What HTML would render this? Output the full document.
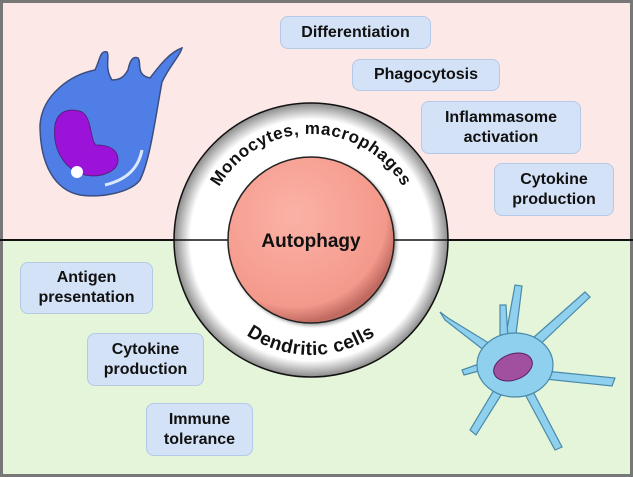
<!DOCTYPE html>
<html><head><style>
body{margin:0;width:633px;height:477px;overflow:hidden;font-family:"Liberation Sans",sans-serif}
.b{position:absolute;background:#d3e2f6;border:1px solid #b3c9e6;border-radius:8px;font-weight:bold;font-size:16px;color:#111;text-align:center;line-height:20px;display:flex;align-items:center;justify-content:center;box-sizing:border-box}
</style></head><body>
<svg width="633" height="477" style="position:absolute;left:0;top:0">
<defs>
<radialGradient id="pk" cx="40%" cy="35%" r="65%"><stop offset="0" stop-color="#fbb2a6"/><stop offset="0.85" stop-color="#f4998b"/><stop offset="1" stop-color="#c06a60"/></radialGradient>
<radialGradient id="rg" cx="50%" cy="50%" r="50%"><stop offset="0.88" stop-color="#fff"/><stop offset="1" stop-color="#8a8a8a"/></radialGradient>
<filter id="sh"><feDropShadow dx="2" dy="2" stdDeviation="1.5" flood-color="#000" flood-opacity="0.35"/></filter>
</defs>
<rect x="0" y="0" width="633" height="477" fill="#777"/>
<rect x="3" y="3" width="627" height="237" fill="#fde8e8"/>
<rect x="3" y="240" width="627" height="234" fill="#e5f5da"/>
<line x1="0" y1="240" x2="633" y2="240" stroke="#111" stroke-width="2"/>
<path d="M40,125 C42,95 70,75 95,70 C100,60 100,50 107,52 C110,56 104,68 112,80 C122,80 125,75 128,70 C130,60 133,56 138,58 C142,62 135,75 150,78 C160,65 170,52 182,48 C180,56 170,65 162,82 C155,120 150,160 140,180 C130,193 100,198 80,195 C55,190 40,165 40,125 Z" fill="#4f7fe6" stroke="#3a4f80" stroke-width="1.5"/>
<path d="M55,125 C58,110 70,108 82,112 C92,118 90,140 96,145 C110,145 118,150 118,160 C118,172 100,178 85,175 C65,170 52,150 55,125 Z" fill="#9b12d8" stroke="#5a2080" stroke-width="1"/>
<circle cx="77" cy="172" r="6" fill="#fff"/>
<path d="M105,185 C125,180 138,170 142,150" stroke="#dbe8ff" stroke-width="3" fill="none"/>
<g fill="#8fd0ee" stroke="#4a8aa8" stroke-width="1.2">
<path d="M490,355 L445,320 L440,312 L448,318 L492,345 Z"/>
<path d="M505,340 L515,285 L522,286 L515,342 Z"/>
<path d="M525,345 L585,292 L590,297 L532,352 Z"/>
<path d="M535,370 L615,378 L612,386 L535,378 Z"/>
<path d="M500,380 L470,430 L476,435 L508,384 Z"/>
<path d="M520,385 L555,450 L562,447 L528,382 Z"/>
<path d="M490,360 L462,370 L464,375 L490,368 Z"/>
<path d="M500,340 L500,305 L506,305 L508,340 Z"/>
<ellipse cx="515" cy="365" rx="38" ry="32"/>
</g>
<ellipse cx="513" cy="367" rx="20" ry="13" fill="#a0509e" stroke="#5a2060" transform="rotate(-20 513 367)"/>
<circle cx="311" cy="240" r="137" fill="url(#rg)" stroke="#111" stroke-width="1.5"/>
<line x1="174" y1="240" x2="448" y2="240" stroke="#111" stroke-width="1.5"/>
<circle cx="311" cy="240" r="83" fill="url(#pk)" stroke="#222" stroke-width="1.5" filter="url(#sh)"/>
<path id="arcT" d="M205,240 A106,106 0 0 1 417,240" fill="none"/>
<path id="arcB" d="M196,240 A115,115 0 0 0 426,240" fill="none"/>
<text font-family="Liberation Sans,sans-serif" font-weight="bold" font-size="17" letter-spacing="0.6" fill="#111"><textPath href="#arcT" startOffset="50%" text-anchor="middle">Monocytes, macrophages</textPath></text>
<text font-family="Liberation Sans,sans-serif" font-weight="bold" font-size="19" letter-spacing="0.5" fill="#111"><textPath href="#arcB" startOffset="50%" text-anchor="middle">Dendritic cells</textPath></text>
<text x="311" y="247" text-anchor="middle" font-family="Liberation Sans,sans-serif" font-weight="bold" font-size="19" fill="#111">Autophagy</text>
</svg>
<div class="b" style="left:280px;top:16px;width:151px;height:33px">Differentiation</div>
<div class="b" style="left:352px;top:59px;width:148px;height:32px">Phagocytosis</div>
<div class="b" style="left:421px;top:101px;width:160px;height:53px">Inflammasome<br>activation</div>
<div class="b" style="left:494px;top:163px;width:120px;height:53px">Cytokine<br>production</div>
<div class="b" style="left:20px;top:262px;width:133px;height:52px">Antigen<br>presentation</div>
<div class="b" style="left:87px;top:333px;width:117px;height:53px">Cytokine<br>production</div>
<div class="b" style="left:146px;top:403px;width:107px;height:53px">Immune<br>tolerance</div>
</body></html>
